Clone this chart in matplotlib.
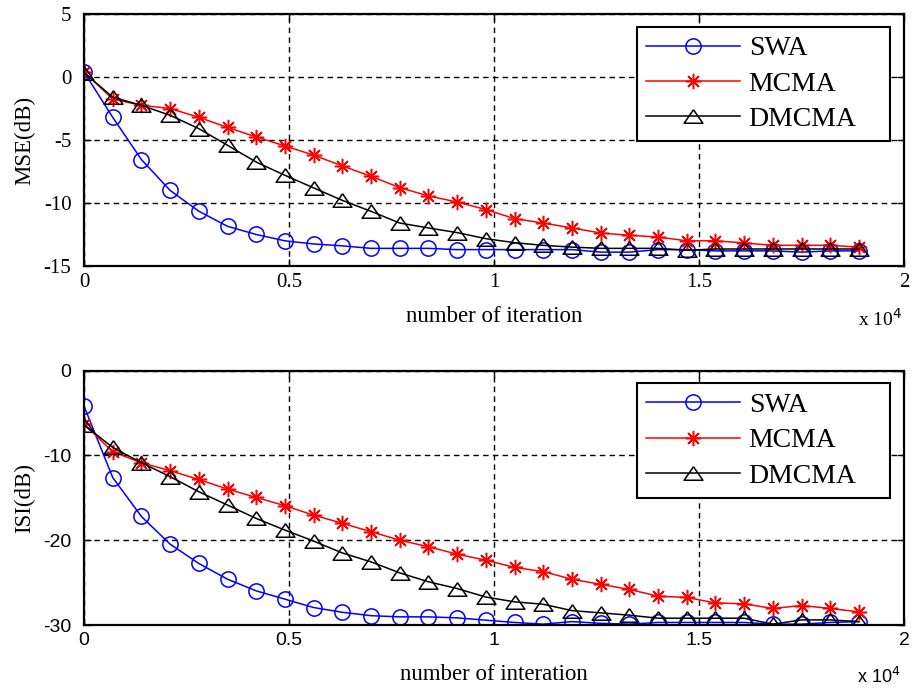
import matplotlib
matplotlib.use("Agg")
import matplotlib.pyplot as plt
from matplotlib.ticker import FuncFormatter, MultipleLocator

plt.rcParams["axes.unicode_minus"] = False

iterations = list(range(0, 18901, 700))

mse_swa = [0.4, -3.2, -6.55, -9.0, -10.65, -11.85, -12.5, -13.0, -13.25, -13.4, -13.6, -13.6,
           -13.6, -13.7, -13.7, -13.7, -13.7, -13.7, -13.9, -13.9, -13.7, -13.7, -13.8, -13.8,
           -13.8, -13.9, -13.8, -13.8]
mse_mcma = [0.4, -1.75, -2.25, -2.5, -3.2, -4.0, -4.76, -5.47, -6.2, -7.06, -7.88, -8.78,
            -9.44, -9.92, -10.52, -11.24, -11.59, -11.98, -12.38, -12.56, -12.7, -13.0, -13.0,
            -13.17, -13.36, -13.36, -13.36, -13.5]
mse_dmcma = [0.35, -1.6, -2.25, -3.04, -4.1, -5.42, -6.75, -7.8, -8.8, -9.79, -10.66, -11.59,
             -11.98, -12.35, -12.83, -13.15, -13.36, -13.5, -13.6, -13.6, -13.6, -13.75, -13.65,
             -13.65, -13.65, -13.65, -13.65, -13.65]

isi_swa = [-4.17, -12.6, -17.2, -20.46, -22.74, -24.6, -25.97, -26.95, -27.94, -28.5, -28.9,
           -29.04, -29.04, -29.16, -29.43, -29.7, -29.9, -29.6, -29.8, -29.9, -29.7, -29.7,
           -29.7, -29.7, -29.9, -29.9, -29.7, -29.6]
isi_mcma = [-6.3, -9.56, -10.86, -11.8, -12.83, -13.97, -14.95, -15.93, -17.04, -18.0, -19.0,
            -19.99, -20.77, -21.64, -22.35, -23.2, -23.7, -24.6, -25.2, -25.8, -26.6, -26.75,
            -27.4, -27.5, -28.05, -27.7, -28.05, -28.45]
isi_dmcma = [-6.4, -9.05, -10.86, -12.5, -14.28, -15.85, -17.43, -18.8, -20.1, -21.5, -22.55,
             -23.85, -24.9, -25.7, -26.7, -27.27, -27.55, -28.3, -28.57, -28.84, -29.2, -29.2,
             -29.2, -29.2, -29.9, -29.4, -29.4, -29.6]

labels = ["SWA", "MCMA", "DMCMA"]
colors = ["#0000ff", "#ff0000", "#000000"]
tri = [(0, 0.72), (-1, -0.72), (1, -0.72), (0, 0.72)]
markers = ["o", (8, 2, 0), tri]
msizes = [11, 11, 13.5]

SERIF = "Liberation Serif"
SANS = "Liberation Sans"

fig = plt.figure(figsize=(9.15, 6.89), dpi=100)
ax1 = fig.add_axes([84/915, 1-266/689, 820/915, 252/689])
ax2 = fig.add_axes([84/915, 1-625/689, 820/915, 254.3/689])

def draw(ax, series, ylim, ystep, ylabel, xlabel, tickfont, ticksize, legtop, xlabpad):
    for ys, lab, c, m, ms in zip(series, labels, colors, markers, msizes):
        ax.plot(iterations, ys, color=c, lw=1.1, marker=m, ms=ms,
                mfc="none", mec=c, mew=1.1, label=lab)
    ax.set_xlim(0, 20000)
    ax.set_ylim(*ylim)
    ax.xaxis.set_major_locator(MultipleLocator(5000))
    ax.yaxis.set_major_locator(MultipleLocator(ystep))
    ax.xaxis.set_major_formatter(FuncFormatter(lambda v, p: "%g" % (v / 1e4)))
    ax.grid(True, color="black", ls=(0, (4, 3)), lw=1.0)
    for s in ax.spines.values():
        s.set_linewidth(1.6)
    ax.tick_params(direction="in", top=True, right=True, length=5, width=1,
                   labelsize=ticksize)
    ax.tick_params(axis="y", pad=9)
    ax.tick_params(axis="x", pad=5)
    for t in ax.get_xticklabels() + ax.get_yticklabels():
        t.set_fontfamily(tickfont)
    ax.set_ylabel(ylabel, fontfamily=SERIF, fontsize=16.5, labelpad=6)
    ax.set_xlabel(xlabel, fontfamily=SERIF, fontsize=16.5, labelpad=xlabpad)
    x0 = (636.7 - 84) / 820
    x1 = (890 - 84) / 820
    leg = ax.legend(loc="upper right", prop={"family": SERIF, "size": 20},
                    fancybox=False, edgecolor="black", framealpha=1, handlelength=3.4,
                    labelspacing=0.36, borderpad=0.33, handletextpad=0.3,
                    borderaxespad=0, mode="expand",
                    bbox_to_anchor=(x0, 0, x1 - x0, legtop))
    leg.get_frame().set_linewidth(1.5)
    ax.set_axisbelow(True)

draw(ax1, [mse_swa, mse_mcma, mse_dmcma], (-15, 5), 5, "MSE(dB)", "number of iteration",
     SERIF, 15, (266 - 26.7) / 252, 10)
draw(ax2, [isi_swa, isi_mcma, isi_dmcma], (-30, 0), 10, "ISI(dB)", "number of interation",
     SANS, 14, (625 - 383.3) / 254.3, 11)

fig.text(858/915, 1-319/689, r"x 10$^4$", fontfamily=SERIF, fontsize=14, va="center", ha="left")
fig.text(857/915, 1-677/689, r"x 10$^4$", fontfamily=SANS, fontsize=13, va="center", ha="left")

fig.savefig("out.png", dpi=100)
